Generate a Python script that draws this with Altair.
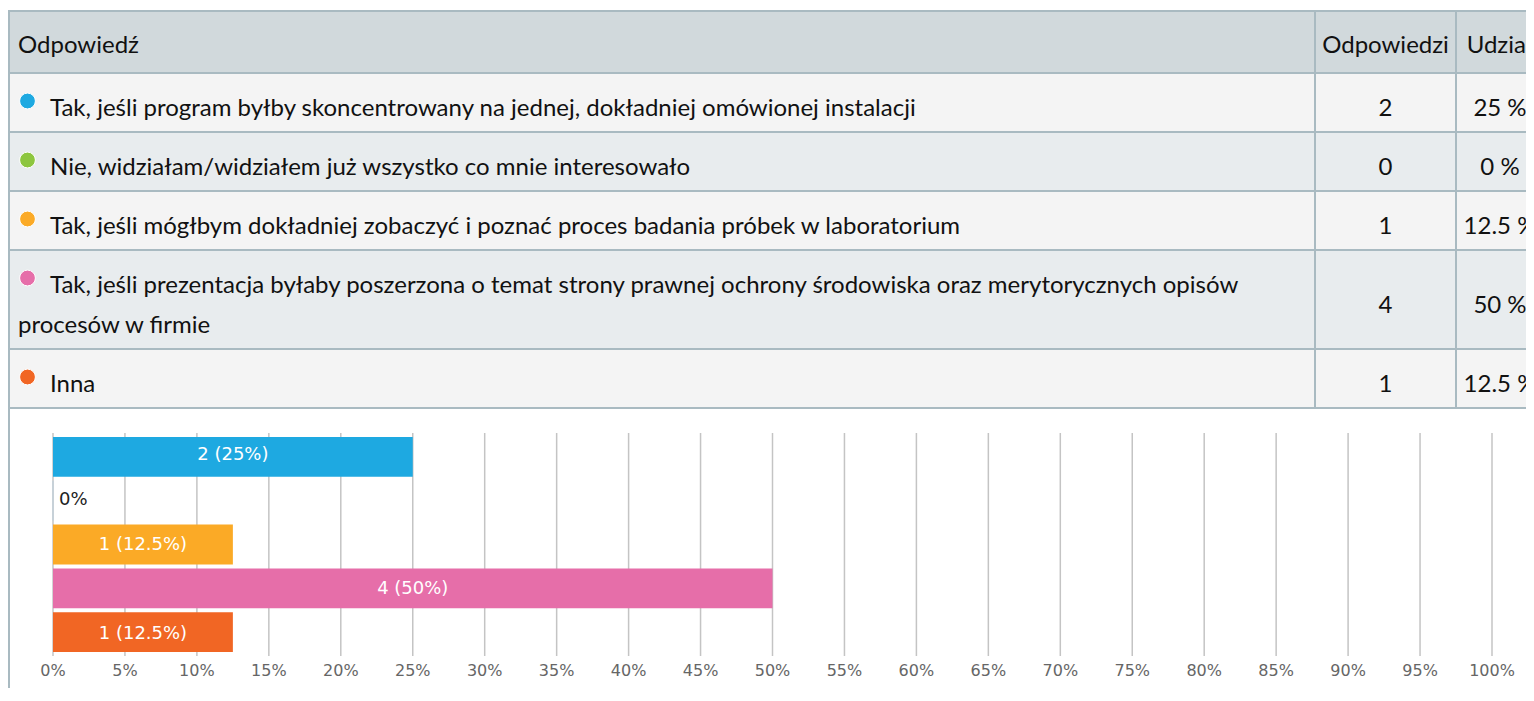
import altair as alt
import pandas as pd

# ---------------- data ----------------
headers = ["Odpowiedź", "Odpowiedzi", "Udział"]
answers = [
    ["Tak, jeśli program byłby skoncentrowany na jednej, dokładniej omówionej instalacji"],
    ["Nie, widziałam/widziałem już wszystko co mnie interesowało"],
    ["Tak, jeśli mógłbym dokładniej zobaczyć i poznać proces badania próbek w laboratorium"],
    ["Tak, jeśli prezentacja byłaby poszerzona o temat strony prawnej ochrony środowiska oraz merytorycznych opisów",
     "procesów w firmie"],
    ["Inna"],
]
counts = [2, 0, 1, 4, 1]
shares = [25, 0, 12.5, 50, 12.5]
share_text = ["25 %", "0 %", "12.5 %", "50 %", "12.5 %"]
colors = ["#1ea9e1", "#8dc63f", "#fbaa26", "#e66ea9", "#f16624"]
x_ticks = list(range(0, 101, 5))

# ---------------- layout / style ----------------
W, H = 1518, 680
TOP, HEADER_H, ROW_H, LINE_H = 3, 62, 59, 40
COLS = [1, 1307, 1448, 1600]
COL2_C, COL3_C = 1377.5, 1492
TXT_X, LINE2_X, DOT_X, HEAD_X = 42, 10, 19.5, 10
BORDER = "#a9bac1"
HEAD_BG, ROW_BG, ROW_BG2 = "#d1d9dc", "#f4f4f4", "#e8ecee"
TFONT = "Lato"
TSIZE = 24
CFONT = "DejaVu Sans"
PLOT_Y0, PLOT_Y1 = 425, 648
LABEL_Y = 663
X0_PX, X100_PX = 45, 1484

# ---------------- build table records ----------------
cells, left_txt, center_txt, dots = [], [], [], []
y = TOP
for c in range(3):
    cells.append(dict(x0=COLS[c], x1=COLS[c + 1], y0=y, y1=y + HEADER_H, fill=HEAD_BG))
yc = y + HEADER_H / 2
left_txt.append(dict(x=HEAD_X, y=yc - 2, text=headers[0]))
center_txt.append(dict(x=COL2_C, y=yc - 2, text=headers[1]))
center_txt.append(dict(x=COL3_C, y=yc - 2, text=headers[2]))
y += HEADER_H
for i, lines in enumerate(answers):
    h = ROW_H + LINE_H * (len(lines) - 1)
    bg = ROW_BG if i % 2 == 0 else ROW_BG2
    for c in range(3):
        cells.append(dict(x0=COLS[c], x1=COLS[c + 1], y0=y, y1=y + h, fill=bg))
    yc = y + h / 2
    n = len(lines)
    for k, line in enumerate(lines):
        ly = yc + (k - (n - 1) / 2) * LINE_H
        left_txt.append(dict(x=TXT_X if k == 0 else LINE2_X, y=ly, text=line))
        if k == 0:
            dots.append(dict(x=DOT_X, y=ly - 1.5, color=colors[i]))
    center_txt.append(dict(x=COL2_C, y=yc, text=str(counts[i])))
    center_txt.append(dict(x=COL3_C, y=yc, text=share_text[i]))
    y += h
table_bottom = y
cells.append(dict(x0=COLS[0], x1=W + 40, y0=table_bottom, y1=H + 40, fill="#ffffff"))

cells_df = pd.DataFrame(cells)
left_df = pd.DataFrame(left_txt)
center_df = pd.DataFrame(center_txt)
dots_df = pd.DataFrame(dots)

PX = lambda f: alt.X(f, type="quantitative", scale=None, axis=None)
PY = lambda f: alt.Y(f, type="quantitative", scale=None, axis=None)

rects = alt.Chart(cells_df).mark_rect(stroke=BORDER, strokeWidth=2).encode(
    x=PX("x0"), x2="x1:Q", y=PY("y0"), y2="y1:Q", fill=alt.Fill("fill:N", scale=None)
)
ltext = alt.Chart(left_df).mark_text(
    align="left", baseline="alphabetic", dy=13, font=TFONT, fontSize=TSIZE, color="#111111"
).encode(x=PX("x"), y=PY("y"), text="text:N")
ctext = alt.Chart(center_df).mark_text(
    align="center", baseline="alphabetic", dy=13, font=TFONT, fontSize=TSIZE, color="#111111"
).encode(x=PX("x"), y=PY("y"), text="text:N")
dot_layer = alt.Chart(dots_df).mark_circle(size=250, opacity=1, stroke="white", strokeWidth=1).encode(
    x=PX("x"), y=PY("y"), fill=alt.Fill("color:N", scale=None)
)

# ---------------- bar chart ----------------
bar_df = pd.DataFrame({"idx": list(range(len(shares))), "share": shares, "count": counts, "color": colors})
tick_df = pd.DataFrame({"v": x_ticks})

x_scale = alt.Scale(domain=[0, 100], range=[X0_PX, X100_PX], nice=False, zero=False)
y_band = alt.Y(
    "idx:O",
    scale=alt.Scale(domain=list(range(len(shares))), range=[PLOT_Y0, PLOT_Y1], paddingInner=0.09, paddingOuter=0.09),
    axis=None,
)

grid = alt.Chart(tick_df).mark_rule(color="#c4c4c4", strokeWidth=1.5).encode(
    x=alt.X("v:Q", scale=x_scale, axis=None),
    y=alt.value(PLOT_Y0), y2=alt.value(PLOT_Y1),
)
tick_labels = alt.Chart(tick_df).transform_calculate(lab="datum.v + '%'").mark_text(
    font=CFONT, fontSize=16, color="#666666", baseline="middle", align="center"
).encode(
    x=alt.X("v:Q", scale=x_scale, axis=None), y=alt.value(LABEL_Y), text="lab:N"
)
bars = alt.Chart(bar_df).mark_bar().encode(
    x=alt.X("share:Q", scale=x_scale, axis=None),
    y=y_band,
    fill=alt.Fill("color:N", scale=None),
)
zero_bar = alt.Chart(bar_df).transform_filter("datum.share == 0").mark_bar(
    stroke="#c3d1da", strokeWidth=1.5, fill="#c3d1da"
).encode(
    x=alt.X("share:Q", scale=x_scale, axis=None),
    y=y_band,
)
bar_labels = alt.Chart(bar_df).transform_filter("datum.share > 0").transform_calculate(
    mid="datum.share / 2", label="datum.count + ' (' + datum.share + '%)'"
).mark_text(font=CFONT, fontSize=18, color="white", baseline="middle").encode(
    x=alt.X("mid:Q", scale=x_scale, axis=None), y=y_band, text="label:N"
)
zero_labels = alt.Chart(bar_df).transform_filter("datum.share == 0").transform_calculate(
    label="datum.share + '%'"
).mark_text(font=CFONT, fontSize=18, color="#222222", align="left", dx=6, baseline="middle").encode(
    x=alt.X("share:Q", scale=x_scale, axis=None), y=y_band, text="label:N"
)

chart = alt.layer(
    rects, dot_layer, ltext, ctext, grid, tick_labels, bars, zero_bar, bar_labels, zero_labels
).resolve_scale(
    x="independent", y="independent"
).resolve_axis(x="independent", y="independent").properties(
    width=W, height=H, autosize=alt.AutoSizeParams(type="none"), padding=0
).configure_view(stroke=None)

chart.save("out.html", embed_options={"renderer": "svg", "actions": False})
